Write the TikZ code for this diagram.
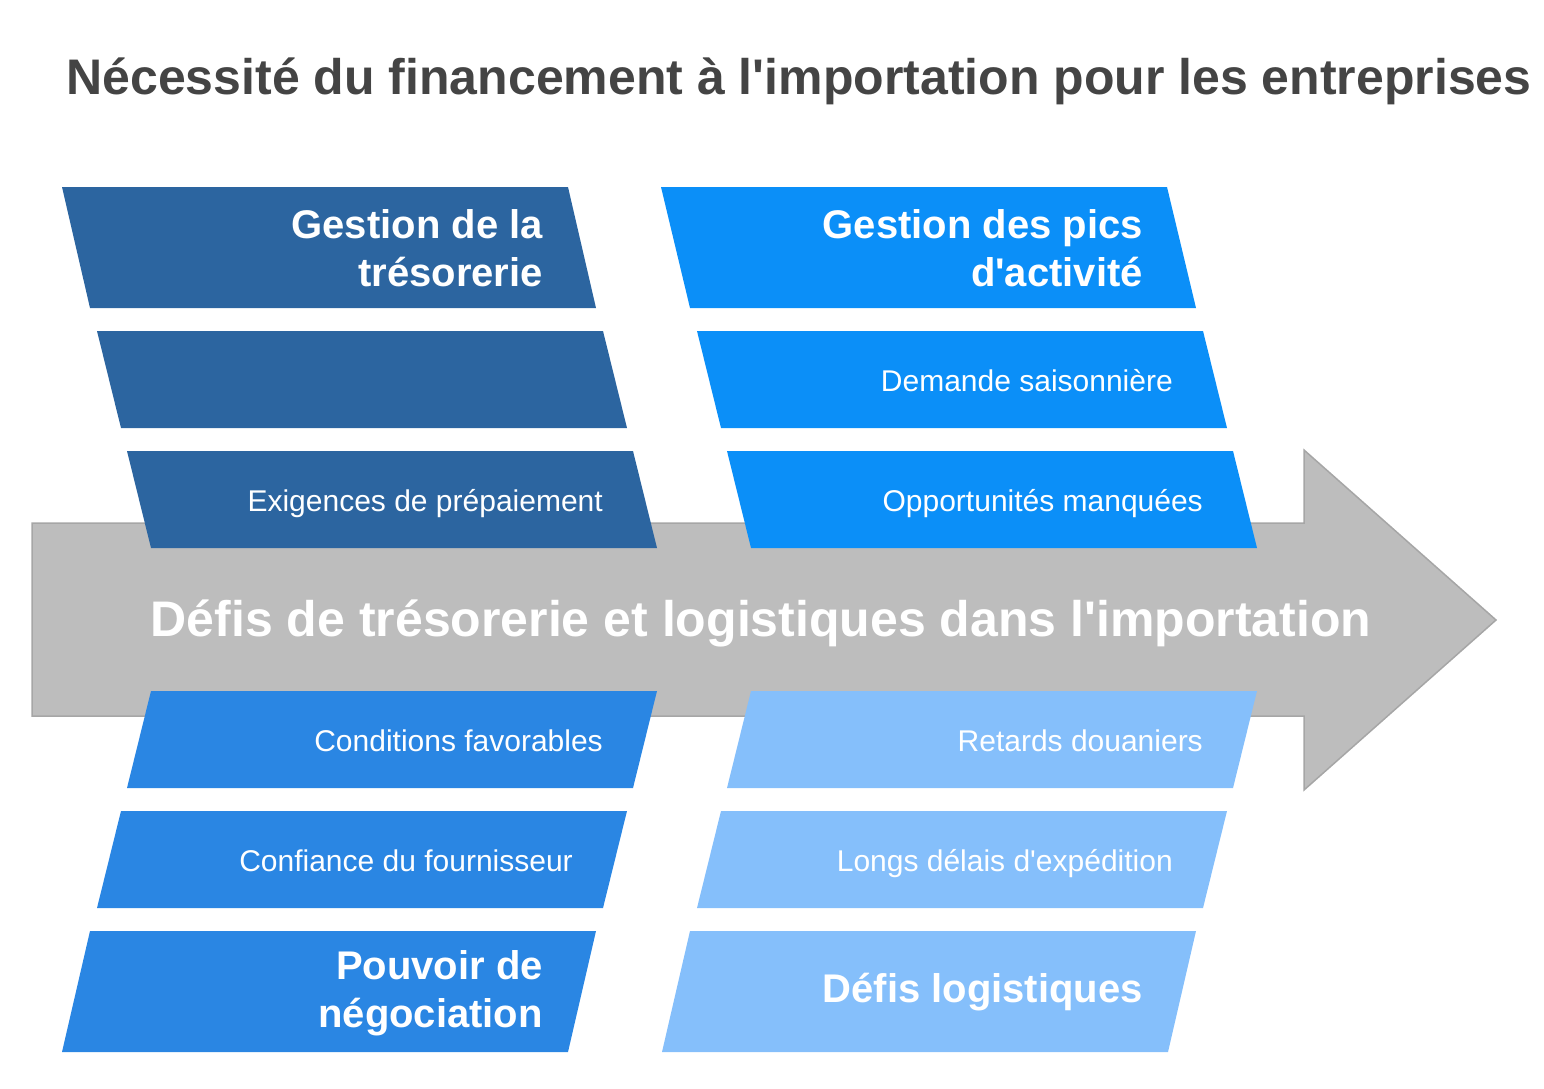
\documentclass[tikz,border=0pt]{standalone}
\usepackage{fontspec}
\setmainfont{Liberation Sans}
\definecolor{treso}{HTML}{2C65A0}
\definecolor{pics}{HTML}{0B8FF8}
\definecolor{nego}{HTML}{2A86E3}
\definecolor{logi}{HTML}{85BFFB}
\definecolor{spinefill}{HTML}{BDBDBD}
\definecolor{spineline}{HTML}{A6A6A6}
\definecolor{titlegray}{HTML}{444444}

% straight apostrophe
\newcommand{\apos}{\textquotesingle}
% slanted band: colour, top-left x, top y, height, shift of the lower edge
\newcommand{\band}[5]{\fill[#1] (#2,#3) -- ++(506,0) -- ++(#5,#4) -- ++(-506,0) -- cycle;}

\tikzset{
  head/.style={text=white, font=\bfseries\fontsize{40}{48}\selectfont, align=right, anchor=east, inner sep=0pt},
  item/.style={text=white, font=\fontsize{30}{36}\selectfont, anchor=base east, inner sep=0pt},
}

\begin{document}
\begin{tikzpicture}[x=1pt,y=-1pt]
\useasboundingbox (0,0) rectangle (1544,1088);
% title
\node[text=titlegray, font=\bfseries\fontsize{50}{60}\selectfont] (title) at (799,81)
  {Nécessité du financement à l\apos importation pour les entreprises};
% spine arrow
\filldraw[fill=spinefill, draw=spineline, line width=1.5pt]
  (32,523) -- (1304,523) -- (1304,450) -- (1496,620) -- (1304,790) -- (1304,716) -- (32,716) -- cycle;
\node[text=white, font=\bfseries\fontsize{50}{60}\selectfont] (spine) at (761,623)
  {Défis de trésorerie et logistiques dans l\apos importation};
% upper left
\band{treso}{62}{187}{121}{28}
\band{treso}{97}{331}{97}{24}
\band{treso}{127}{451}{97}{24}
\node[head] (treso) at (543,248) {Gestion de la\\trésorerie};
\node[item] (prepaie) at (603,511) {Exigences de prépaiement};
% upper right
\band{pics}{661}{187}{121}{29}
\band{pics}{697}{331}{97}{24}
\band{pics}{727}{451}{97}{24}
\node[head] (pics) at (1143,248) {Gestion des pics\\d\apos activité};
\node[item] (saison) at (1173,391) {Demande saisonnière};
\node[item] (opport) at (1203,511) {Opportunités manquées};
% lower left
\band{nego}{151}{691}{97}{-24}
\band{nego}{121}{811}{97}{-24}
\band{nego}{90}{931}{121}{-28}
\node[item] (condi) at (603,751) {Conditions favorables};
\node[item] (confi) at (573,871) {Confiance du fournisseur};
\node[head] (nego) at (543,993) {Pouvoir de\\négociation};
% lower right
\band{logi}{751}{691}{97}{-24}
\band{logi}{721}{811}{97}{-24}
\band{logi}{690}{931}{121}{-28}
\node[item] (douane) at (1203,751) {Retards douaniers};
\node[item] (delais) at (1173,871) {Longs délais d\apos expédition};
\node[head] (logi) at (1143,992) {Défis logistiques};
\end{tikzpicture}
\end{document}
